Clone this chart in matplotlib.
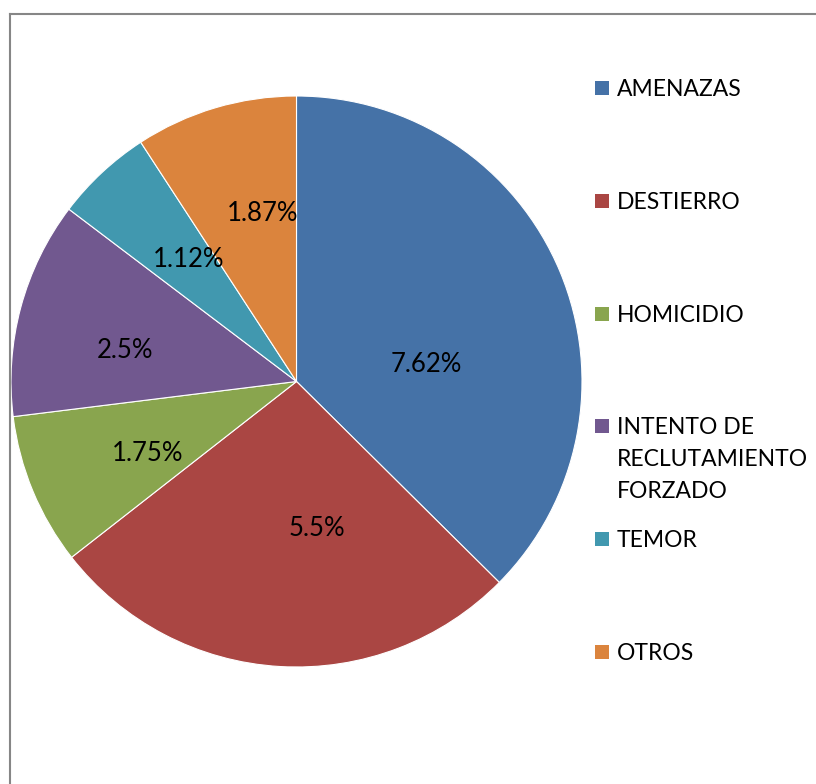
import numpy as np
import matplotlib
matplotlib.use("Agg")
import matplotlib.pyplot as plt
from matplotlib.lines import Line2D
from matplotlib.patches import Rectangle

categories = ["AMENAZAS", "DESTIERRO", "HOMICIDIO",
              "INTENTO DE\nRECLUTAMIENTO\nFORZADO", "TEMOR", "OTROS"]
values = [7.62, 5.5, 1.75, 2.5, 1.12, 1.87]
value_labels = ["7.62%", "5.5%", "1.75%", "2.5%", "1.12%", "1.87%"]

colors = ["#4572A7", "#AA4643", "#89A54E", "#71588F", "#4198AF", "#DB843D"]
# label placement (radius fraction, angle tweak in degrees)
label_r = [0.46, 0.52, 0.58, 0.61, 0.57, 0.60]
label_dang = [-15, 11.4, 3.2, 4.7, -1.6, -5.1]

W, H = 816, 784
fig = plt.figure(figsize=(W / 100, H / 100), dpi=100)
fig.patch.set_facecolor("white")
plt.rcParams['font.family'] = ['Lato', 'DejaVu Sans']

cx, cy, R = 296.5, 381.5, 285.5
ax = fig.add_axes([(cx - R) / W, (H - cy - R) / H, 2 * R / W, 2 * R / H])
wedges, _ = ax.pie(values, colors=colors, startangle=90, counterclock=False,
                   radius=1.0, wedgeprops=dict(edgecolor="white", linewidth=0.8))
ax.set_xlim(-1, 1)
ax.set_ylim(-1, 1)
ax.set_aspect("equal")
ax.axis("off")

for w, lab, rr, da in zip(wedges, value_labels, label_r, label_dang):
    mid = np.deg2rad((w.theta1 + w.theta2) / 2 + da)
    ax.text(rr * np.cos(mid), rr * np.sin(mid), lab, ha="center", va="center",
            fontsize=18.5, color="black")

# legend
lx_box, lx_text = 595, 617
y0, dy, line_h = 88, 112.8, 32
for i, (cat, col) in enumerate(zip(categories, colors)):
    y = y0 + i * dy
    fig.patches.append(Rectangle((lx_box / W, 1 - (y + 7) / H), 14 / W, 14 / H,
                                 transform=fig.transFigure, facecolor=col,
                                 edgecolor="none"))
    for j, line in enumerate(cat.split("\n")):
        fig.text(lx_text / W, 1 - (y + 8 + j * line_h) / H, line, ha="left",
                 va="baseline", fontsize=16.5, color="black")

# chart border (gray)
fig.add_artist(Line2D([10 / W, 1.0], [1 - 14 / H, 1 - 14 / H],
                      transform=fig.transFigure, color="#868686", linewidth=1.5))
fig.add_artist(Line2D([10 / W, 10 / W], [1 - 14 / H, 0.0],
                      transform=fig.transFigure, color="#868686", linewidth=1.5))

fig.savefig("out.png", dpi=100, facecolor="white")
